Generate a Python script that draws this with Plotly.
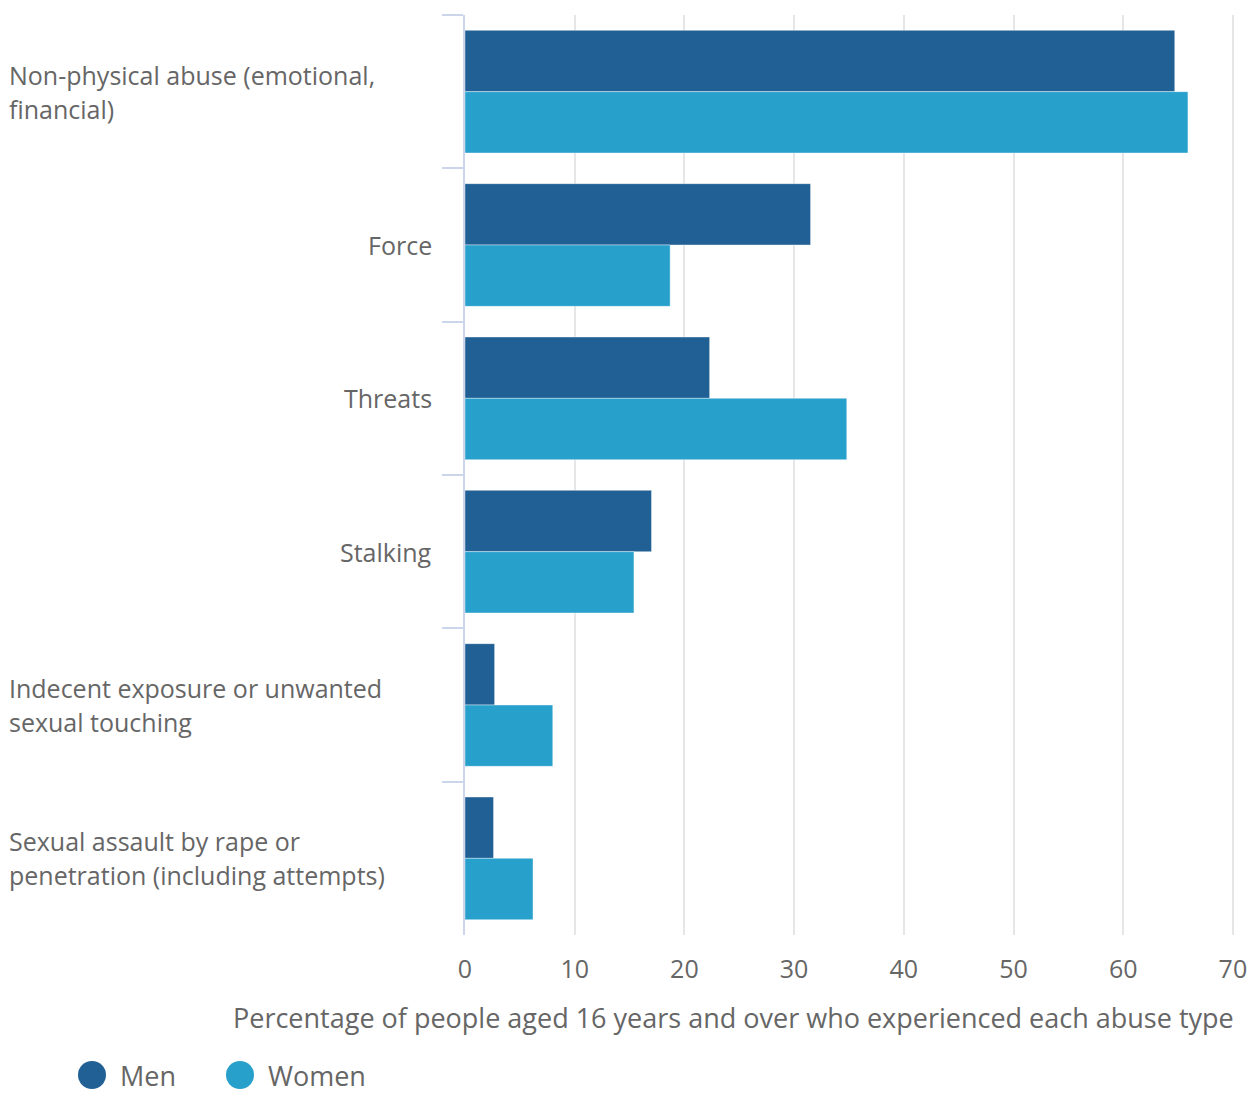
import plotly.graph_objects as go

categories = [
    "Non-physical abuse (emotional, financial)",
    "Force",
    "Threats",
    "Stalking",
    "Indecent exposure or unwanted sexual touching",
    "Sexual assault by rape or penetration (including attempts)",
]
label_lines = [
    ["Non-physical abuse (emotional,", "financial)"],
    ["Force"],
    ["Threats"],
    ["Stalking"],
    ["Indecent exposure or unwanted", "sexual touching"],
    ["Sexual assault by rape or", "penetration (including attempts)"],
]
men = [64.7, 31.5, 22.3, 17.0, 2.7, 2.6]
women = [65.9, 18.7, 34.8, 15.4, 8.0, 6.2]
series_names = ["Men", "Women"]
x_ticks = [0, 10, 20, 30, 40, 50, 60, 70]
x_title = "Percentage of people aged 16 years and over who experienced each abuse type"

MEN_C = "#206095"
WOMEN_C = "#27a0cc"
TXT = "#666666"
FONT = "Open Sans"

# page is offset by the 8px body margin
OFF = 8
W, H = 1257 - 2 * OFF, 1093 - OFF
PLOT_L, PLOT_R, PLOT_T, PLOT_B = 465, 1234, 15, 935  # page pixel coords
ML = PLOT_L - OFF
MR = W - (PLOT_R - OFF)
MT = PLOT_T - OFF
MB = H - (PLOT_B - OFF)
PW = PLOT_R - PLOT_L
PH = PLOT_B - PLOT_T


def pxx(xp):
    return (xp - PLOT_L) / PW


def pxy(yp):
    return (PLOT_B - yp) / PH


fig = go.Figure()
fig.add_trace(go.Bar(y=categories, x=men, orientation="h", name=series_names[0],
                     marker=dict(color=MEN_C, line=dict(color="rgba(255,255,255,0.4)", width=1)),
                     showlegend=False))
fig.add_trace(go.Bar(y=categories, x=women, orientation="h", name=series_names[1],
                     marker=dict(color=WOMEN_C, line=dict(color="rgba(255,255,255,0.4)", width=1)),
                     showlegend=False))

annotations = []
LAB = 25
for cat, lines in zip(categories, label_lines):
    if len(lines) == 1:
        annotations.append(dict(
            x=pxx(434), xref="paper", xanchor="right",
            y=cat, yref="y", yanchor="middle",
            text=lines[0], showarrow=False, align="right",
            font=dict(family=FONT, size=LAB, color=TXT)))
    else:
        for i, ln in enumerate(lines):
            annotations.append(dict(
                x=pxx(7), xref="paper", xanchor="left",
                y=cat, yref="y", yanchor="middle", yshift=17 - 34 * i,
                text=ln, showarrow=False, align="left",
                font=dict(family=FONT, size=LAB, color=TXT)))

annotations.append(dict(
    x=pxx(1236), xref="paper", xanchor="right",
    y=pxy(1017), yref="paper", yanchor="middle",
    text=x_title, showarrow=False,
    font=dict(family=FONT, size=27, color=TXT)))

# manual legend with large circular symbols
shapes = []
for name, col, cx, tx in [(series_names[0], MEN_C, 92, 118), (series_names[1], WOMEN_C, 240, 266)]:
    r = 14
    cy = 1075
    shapes.append(dict(type="circle", xref="paper", yref="paper",
                       x0=pxx(cx - r), x1=pxx(cx + r), y0=pxy(cy + r), y1=pxy(cy - r),
                       fillcolor=col, line=dict(width=0)))
    annotations.append(dict(x=pxx(tx), xref="paper", xanchor="left",
                            y=pxy(1075), yref="paper", yanchor="middle",
                            text=name, showarrow=False,
                            font=dict(family=FONT, size=27, color=TXT)))

fig.update_layout(
    width=W, height=H,
    margin=dict(l=ML, r=MR, t=MT, b=MB, autoexpand=False),
    paper_bgcolor="white", plot_bgcolor="white",
    barmode="group", bargap=0.2, bargroupgap=0,
    font=dict(family=FONT, color=TXT),
    annotations=annotations, shapes=shapes,
    showlegend=False,
    xaxis=dict(range=[0, 70.1], tickvals=x_ticks, showgrid=True, gridcolor="#e6e6e6",
               gridwidth=2, zeroline=False, showline=False, automargin=False,
               ticks="outside", ticklen=12, tickcolor="rgba(0,0,0,0)",
               ticklabeloverflow="allow",
               tickfont=dict(family=FONT, size=25, color=TXT)),
    yaxis=dict(autorange="reversed", showticklabels=False, showgrid=False,
               automargin=False,
               showline=True, linecolor="#ccd6eb", linewidth=2,
               ticks="outside", tickson="boundaries", ticklen=21,
               tickcolor="#ccd6eb", tickwidth=2),
)

fig.write_html("out.html")
